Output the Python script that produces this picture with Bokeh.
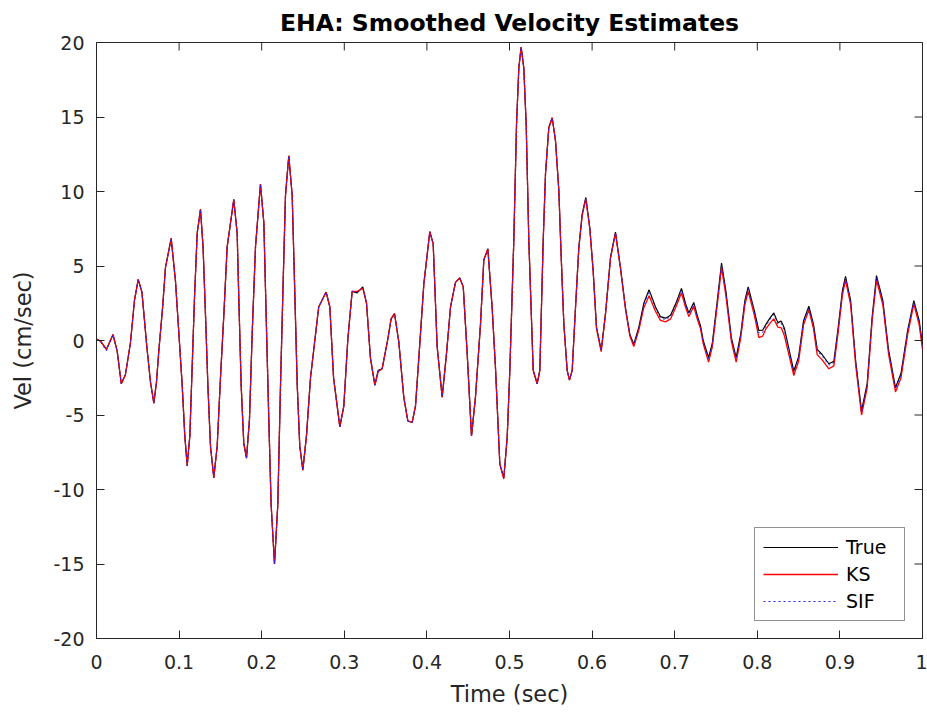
import math
from bokeh.plotting import figure
from bokeh.models import FixedTicker, Legend, LegendItem, Range1d, ColumnDataSource
from bokeh.embed import file_html
from bokeh.resources import INLINE

# ---- data ----
time_s = [
    0.000, 0.005, 0.012, 0.020, 0.025, 0.030, 0.035, 0.041, 0.046, 0.0505,
    0.055, 0.061, 0.0654, 0.0694, 0.0726, 0.0755, 0.0800, 0.0835, 0.0904, 0.0956,
    0.0997, 0.1037, 0.1069, 0.1098, 0.1130, 0.1158, 0.1186, 0.1219, 0.1259, 0.1290,
    0.1320, 0.1348, 0.1380, 0.1420, 0.1461, 0.1501, 0.1541, 0.1582, 0.1662, 0.1703,
    0.1723, 0.1751, 0.1783, 0.1816, 0.1852, 0.1885, 0.1925, 0.1985, 0.2026, 0.2054,
    0.2086, 0.2114, 0.2155, 0.2195, 0.2228, 0.2260, 0.2288, 0.2328, 0.2369, 0.2397,
    0.2430, 0.2461, 0.2498, 0.2542, 0.2591, 0.269, 0.278, 0.2825, 0.287, 0.2946,
    0.2994, 0.3043, 0.3095, 0.3156, 0.3224, 0.3269, 0.3317, 0.337, 0.341, 0.3458,
    0.3527, 0.3567, 0.3608, 0.366, 0.372, 0.3769, 0.3822, 0.3862, 0.3902, 0.3963,
    0.4035, 0.4076, 0.4124, 0.4185, 0.4237, 0.4286, 0.4346, 0.4398, 0.444, 0.4488,
    0.454, 0.4588, 0.4649, 0.4689, 0.4738, 0.4790, 0.4830, 0.4883, 0.4931, 0.4972,
    0.5004, 0.5052, 0.5085, 0.5113, 0.5141, 0.5173, 0.5202, 0.5234, 0.5287, 0.5335,
    0.5367, 0.5408, 0.5436, 0.5476, 0.5517, 0.5557, 0.5597, 0.5626, 0.5658, 0.5698,
    0.5726, 0.5759, 0.5799, 0.5839, 0.5880, 0.5924, 0.5972, 0.6013, 0.6053, 0.6110,
    0.6162, 0.6223, 0.6283, 0.6344, 0.6404, 0.6457, 0.6505, 0.6566, 0.6626, 0.669,
    0.6768, 0.6828, 0.6889, 0.695, 0.7022, 0.7082, 0.713, 0.7171, 0.7231, 0.7272,
    0.7312, 0.7345, 0.741, 0.7455, 0.7516, 0.7567, 0.762, 0.7686, 0.7744, 0.780,
    0.785, 0.789, 0.7964, 0.8019, 0.8066, 0.8106, 0.8159, 0.820, 0.8249, 0.829,
    0.8329, 0.838, 0.8442, 0.850, 0.856, 0.8624, 0.868, 0.8725, 0.8785, 0.8866,
    0.8927, 0.898, 0.903, 0.9068, 0.913, 0.919, 0.9262, 0.933, 0.939, 0.9443,
    0.952, 0.959, 0.9673, 0.974, 0.982, 0.9895, 0.996, 1.000,
]

vel_true = [
    0.1, -0.05, -0.6, 0.4, -0.7, -2.9, -2.3, -0.2, 2.7, 4.1,
    3.25, -0.45, -2.8, -4.2, -2.8, -0.65, 2.2, 4.9, 6.85, 4.0,
    0.5, -2.96, -6.4, -8.4, -6.4, -1.8, 2.8, 7.2, 8.8, 6.3,
    1.66, -2.96, -7.1, -9.2, -7.1, -2.5, 1.66, 6.3, 9.46, 7.2,
    2.8, -2.96, -6.9, -7.9, -5.3, 0.5, 6.3, 10.5, 7.9, 1.66,
    -5.3, -11.0, -15.0, -11.0, -2.96, 3.97, 9.74, 12.4, 9.74, 3.97,
    -2.96, -7.1, -8.7, -6.4, -2.5, 2.25, 3.25, 2.25, -2.5, -5.8,
    -4.4, 0.1, 3.3, 3.2, 3.6, 2.5, -1.2, -3.0, -2.0, -1.9,
    0.1, 1.45, 1.8, -0.1, -3.8, -5.4, -5.5, -4.4, -1.2, 3.8,
    7.3, 6.5, -0.4, -3.8, -0.9, 2.25, 3.9, 4.2, 3.6, -0.9,
    -6.4, -3.8, 1.1, 5.4, 6.15, 2.2, -1.8, -8.3, -9.2, -6.5,
    -2.0, 6.7, 14.5, 18.3, 19.7, 18.3, 14.5, 6.7, -2.0, -2.9,
    -2.0, 6.7, 11.2, 14.3, 14.95, 13.4, 10.1, 5.6, 1.1, -2.0,
    -2.65, -2.0, 2.2, 6.2, 8.5, 9.6, 7.6, 4.7, 0.9, -0.67,
    1.8, 5.6, 7.27, 4.9, 2.2, 0.4, -0.25, 0.9, 2.5, 3.4,
    2.25, 1.6, 1.5, 1.7, 2.6, 3.5, 2.5, 1.85, 2.55, 1.7,
    1.0, 0.0, -1.15, -0.2, 2.7, 5.2, 3.3, 0.2, -1.15, 0.45,
    2.7, 3.6, 2.0, 0.67, 0.7, 1.1, 1.55, 1.85, 1.2, 1.3,
    0.8, -0.5, -2.05, -1.1, 1.33, 2.3, 1.1, -0.6, -0.94, -1.56,
    -1.4, 0.9, 3.33, 4.3, 2.67, -1.33, -4.73, -2.9, 1.55, 4.35,
    2.67, -0.67, -3.17, -2.2, 0.67, 2.68, 1.33, -0.3,
]

vel_ks = [
    0.1, -0.05, -0.6, 0.4, -0.7, -2.9, -2.3, -0.2, 2.7, 4.1,
    3.25, -0.45, -2.8, -4.2, -2.8, -0.65, 2.2, 4.9, 6.85, 4.0,
    0.5, -2.96, -6.4, -8.4, -6.4, -1.8, 2.8, 7.2, 8.8, 6.3,
    1.66, -2.96, -7.1, -9.2, -7.1, -2.5, 1.66, 6.3, 9.46, 7.2,
    2.8, -2.96, -6.9, -7.9, -5.3, 0.5, 6.3, 10.5, 7.9, 1.66,
    -5.3, -11.0, -15.0, -11.0, -2.96, 3.97, 9.74, 12.4, 9.74, 3.97,
    -2.96, -7.1, -8.7, -6.4, -2.5, 2.25, 3.25, 2.25, -2.5, -5.8,
    -4.4, 0.1, 3.3, 3.3, 3.5, 2.5, -1.2, -3.0, -2.1, -1.9,
    0.1, 1.45, 1.8, -0.1, -3.8, -5.4, -5.5, -4.4, -1.2, 3.8,
    7.3, 6.5, -0.4, -3.8, -0.9, 2.25, 3.9, 4.2, 3.6, -0.9,
    -6.4, -3.8, 1.1, 5.4, 6.15, 2.2, -1.8, -8.3, -9.3, -6.5,
    -2.0, 6.7, 14.5, 18.3, 19.7, 18.3, 14.5, 6.7, -2.0, -2.9,
    -2.0, 6.7, 11.2, 14.3, 14.95, 13.4, 10.1, 5.6, 1.1, -2.0,
    -2.65, -2.0, 2.2, 6.2, 8.4, 9.5, 7.5, 4.6, 0.8, -0.75,
    1.75, 5.5, 7.2, 4.8, 2.1, 0.3, -0.4, 0.7, 2.2, 3.0,
    1.95, 1.35, 1.25, 1.45, 2.35, 3.2, 2.25, 1.6, 2.3, 1.45,
    0.8, -0.2, -1.45, -0.45, 2.4, 4.9, 3.0, -0.05, -1.45, 0.2,
    2.4, 3.3, 1.7, 0.2, 0.3, 0.8, 1.2, 1.45, 0.9, 0.85,
    0.3, -0.9, -2.35, -1.4, 1.05, 2.05, 0.8, -0.95, -1.3, -1.9,
    -1.7, 0.6, 3.05, 4.05, 2.4, -1.6, -5.0, -3.2, 1.3, 4.05,
    2.4, -0.95, -3.45, -2.5, 0.4, 2.45, 1.05, -0.6,
]

vel_sif = [
    0.05, -0.1, -0.7, 0.35, -0.7, -2.9, -2.3, -0.2, 2.7, 4.1,
    3.25, -0.45, -2.8, -4.2, -2.8, -0.65, 2.2, 4.9, 6.85, 4.0,
    0.5, -2.96, -6.4, -8.4, -6.4, -1.8, 2.8, 7.2, 8.8, 6.3,
    1.66, -2.96, -7.1, -9.2, -7.1, -2.5, 1.66, 6.3, 9.46, 7.2,
    2.8, -2.96, -6.9, -7.9, -5.3, 0.5, 6.3, 10.5, 7.9, 1.66,
    -5.3, -11.0, -15.0, -11.0, -2.96, 3.97, 9.74, 12.4, 9.74, 3.97,
    -2.96, -7.1, -8.7, -6.4, -2.5, 2.25, 3.25, 2.25, -2.5, -5.8,
    -4.4, 0.1, 3.3, 3.25, 3.55, 2.5, -1.2, -3.0, -2.05, -1.9,
    0.1, 1.45, 1.8, -0.1, -3.8, -5.4, -5.5, -4.4, -1.2, 3.8,
    7.3, 6.5, -0.4, -3.8, -0.9, 2.25, 3.9, 4.2, 3.6, -0.9,
    -6.4, -3.8, 1.1, 5.4, 6.15, 2.2, -1.8, -8.3, -9.25, -6.5,
    -2.0, 6.7, 14.5, 18.3, 19.7, 18.3, 14.5, 6.7, -2.0, -2.9,
    -2.0, 6.7, 11.2, 14.3, 14.95, 13.4, 10.1, 5.6, 1.1, -2.0,
    -2.65, -2.0, 2.2, 6.2, 8.45, 9.55, 7.55, 4.65, 0.85, -0.72,
    1.78, 5.55, 7.25, 4.85, 2.15, 0.35, -0.3, 0.8, 2.4, 3.3,
    2.15, 1.5, 1.4, 1.6, 2.5, 3.4, 2.4, 1.75, 2.45, 1.6,
    0.9, -0.1, -1.25, -0.3, 2.6, 5.1, 3.2, 0.1, -1.25, 0.35,
    2.6, 3.5, 1.9, 0.5, 0.55, 1.0, 1.45, 1.75, 1.1, 1.15,
    0.65, -0.65, -2.15, -1.2, 1.25, 2.2, 1.0, -0.7, -1.05, -1.65,
    -1.5, 0.8, 3.25, 4.2, 2.6, -1.4, -4.85, -3.0, 1.45, 4.25,
    2.6, -0.75, -3.25, -2.3, 0.6, 2.6, 1.25, -0.4,
]

x_ticks = [0, 0.1, 0.2, 0.3, 0.4, 0.5, 0.6, 0.7, 0.8, 0.9, 1]
y_ticks = [-20, -15, -10, -5, 0, 5, 10, 15, 20]
series_names = ["True", "KS", "SIF"]

# ---- figure ----
FONT = "DejaVu Sans"
AX = "#262626"

p = figure(width=927, height=715, output_backend="svg", toolbar_location=None,
           x_range=Range1d(0, 1), y_range=Range1d(-20, 20),
           min_border_left=96, min_border_right=5, min_border_top=42, min_border_bottom=77,
           background_fill_color="white", border_fill_color="white")

p.title.text = "EHA: Smoothed Velocity Estimates"
p.title.text_font = FONT
p.title.text_font_size = "23.5px"
p.title.text_font_style = "bold"
p.title.text_color = "black"
p.title.align = "center"
p.title.standoff = 12

p.xgrid.visible = False
p.ygrid.visible = False
p.outline_line_color = AX
p.outline_line_width = 1

src = ColumnDataSource(dict(t=time_s, vt=vel_true, vk=vel_ks, vs=vel_sif))
r_true = p.line("t", "vt", source=src, line_color="black", line_width=1.2)
r_ks = p.line("t", "vk", source=src, line_color="#ff0000", line_width=1.3)
r_sif = p.line("t", "vs", source=src, line_color="#1f1fff", line_width=1.0, line_dash="2 3")


def style_axis(ax):
    ax.axis_line_color = AX
    ax.major_tick_line_color = AX
    ax.major_tick_in = 8
    ax.major_tick_out = 0
    ax.minor_tick_line_color = None
    ax.major_label_text_font = FONT
    ax.major_label_text_color = AX
    ax.major_label_text_font_size = "19px"
    ax.axis_label_text_font = FONT
    ax.axis_label_text_font_size = "22.5px"
    ax.axis_label_text_font_style = "normal"
    ax.axis_label_text_color = AX


xa = p.xaxis[0]
xa.ticker = FixedTicker(ticks=x_ticks)
xa.major_label_overrides = {0: "0", 1: "1"}
style_axis(xa)
xa.major_label_standoff = 16
xa.axis_label = "Time (sec)"
xa.axis_label_standoff = 9

ya = p.yaxis[0]
ya.ticker = FixedTicker(ticks=y_ticks)
ya.major_label_overrides = {v: str(v) for v in y_ticks}
style_axis(ya)
ya.major_label_standoff = 12
ya.axis_label = "Vel (cm/sec)"
ya.axis_label_standoff = 14

# inward tick marks on the top and right edges of the box (as in the reference)
p.ray(x=x_ticks, y=[y_ticks[-1]] * len(x_ticks), length=8, length_units="screen",
      angle=-math.pi / 2, line_color=AX, line_width=1)
p.ray(x=[x_ticks[-1]] * len(y_ticks), y=y_ticks, length=8, length_units="screen",
      angle=math.pi, line_color=AX, line_width=1)

legend = Legend(items=[LegendItem(label=series_names[0], renderers=[r_true]),
                       LegendItem(label=series_names[1], renderers=[r_ks]),
                       LegendItem(label=series_names[2], renderers=[r_sif])],
                location="bottom_right")
legend.margin = 17
legend.padding = 8
legend.spacing = 5
legend.glyph_width = 75
legend.glyph_height = 20
legend.label_height = 20
legend.label_width = 50
legend.label_standoff = 8
legend.label_text_font = FONT
legend.label_text_font_size = "19px"
legend.label_text_color = "black"
legend.border_line_color = AX
legend.border_line_width = 1
legend.background_fill_color = "white"
legend.background_fill_alpha = 1.0
p.add_layout(legend, "center")

open("out.html", "w").write(file_html(p, INLINE))
